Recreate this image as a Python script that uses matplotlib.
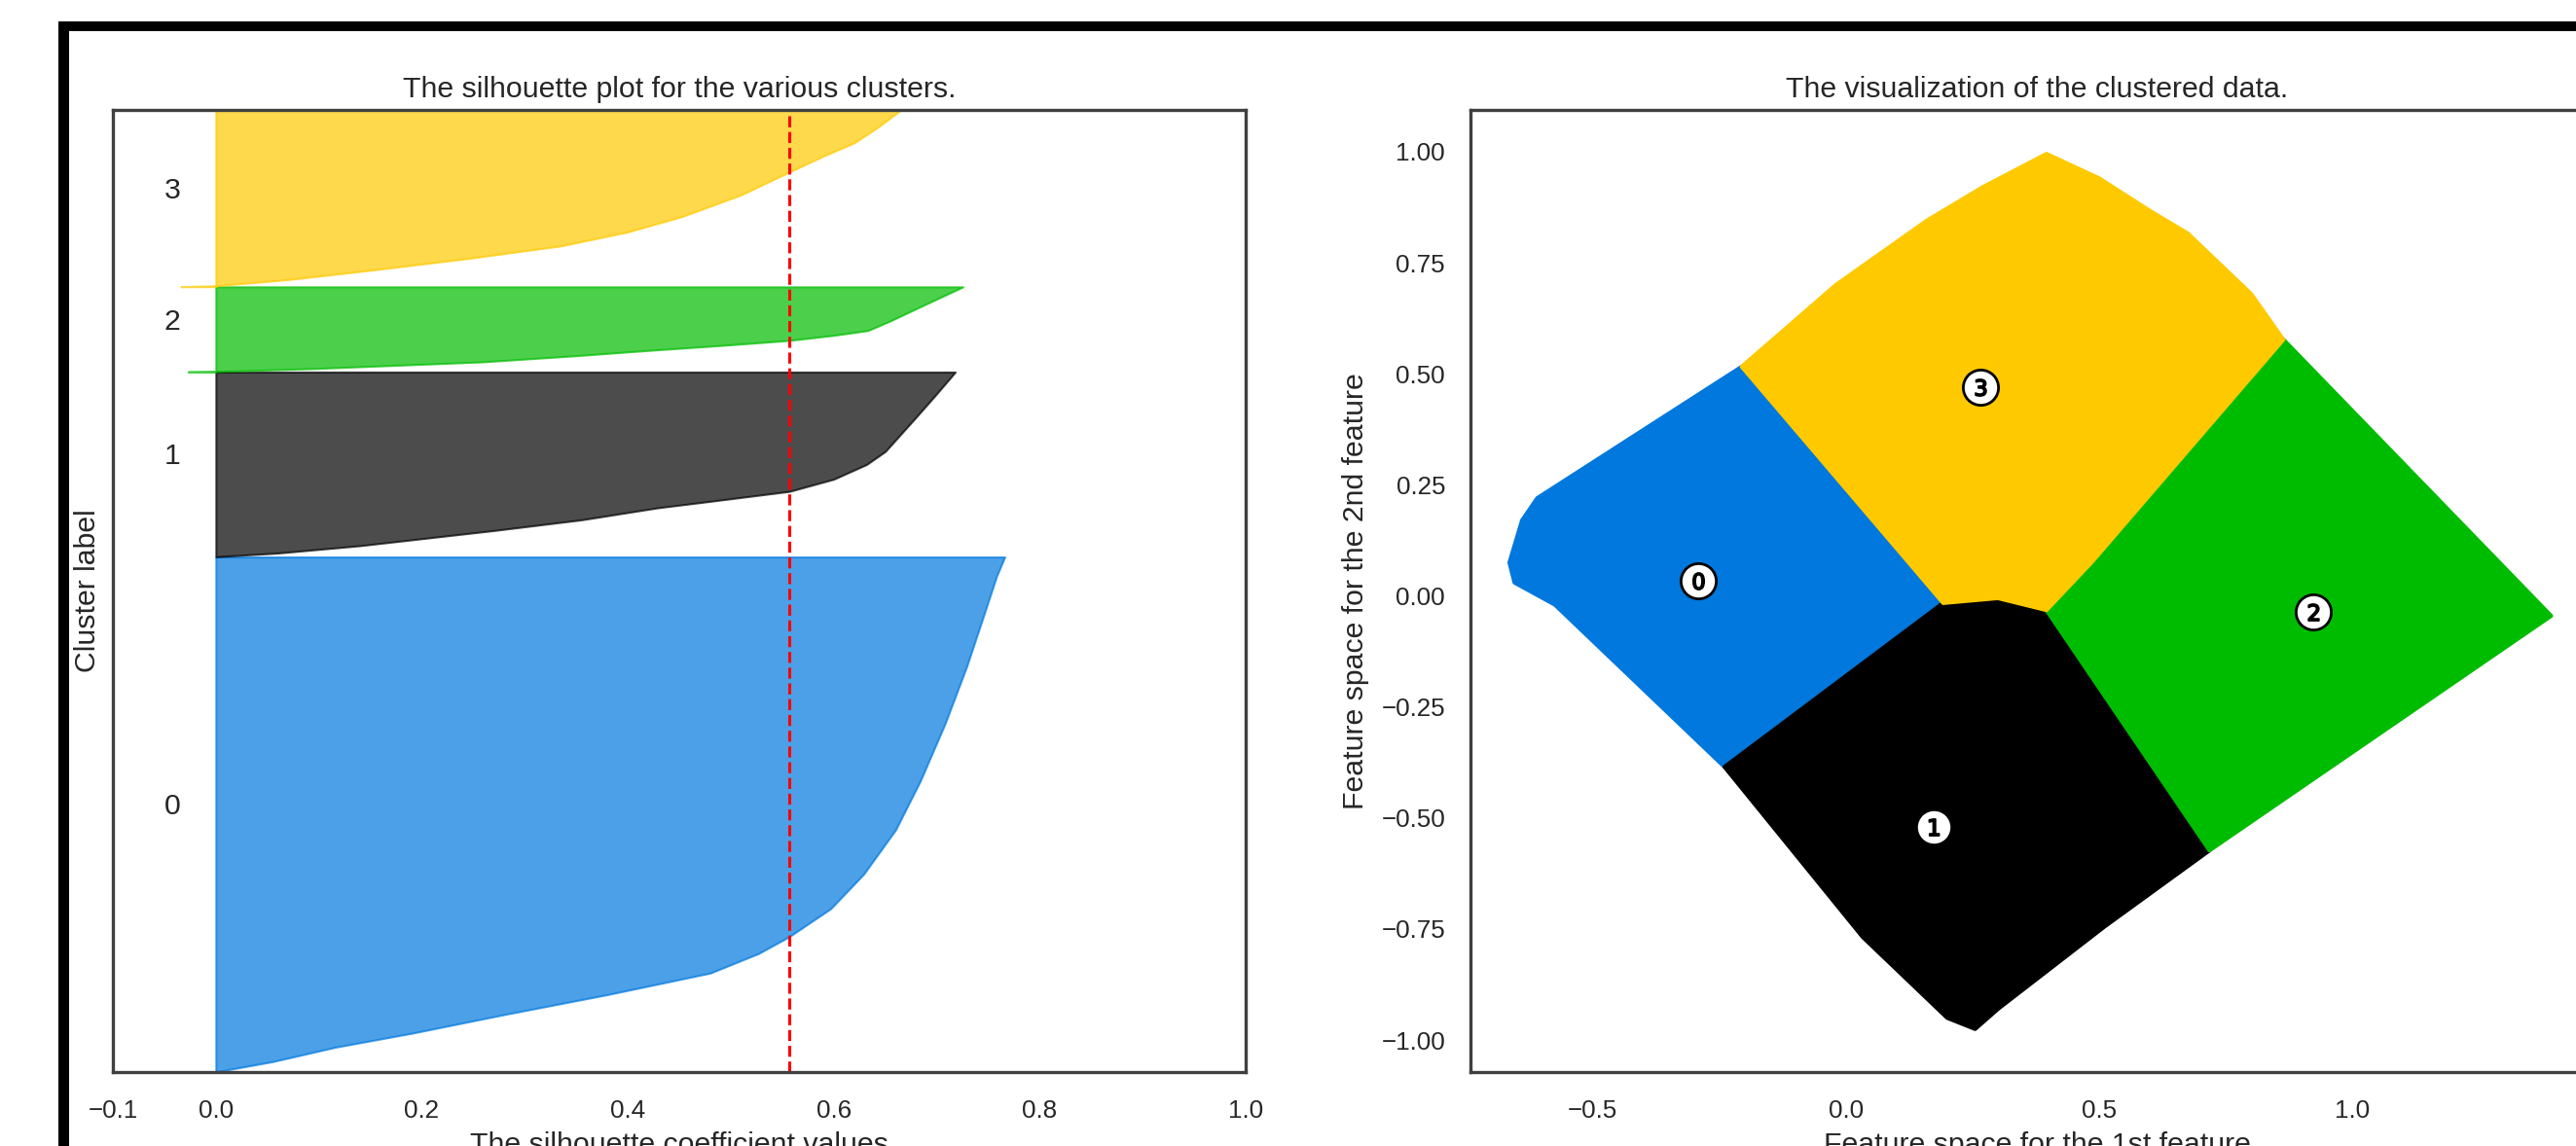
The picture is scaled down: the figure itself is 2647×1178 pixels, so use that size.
import numpy as np
import matplotlib
matplotlib.use("Agg")
import matplotlib.pyplot as plt
from matplotlib.patches import Rectangle

# ------------------------------------------------------------------ data
cluster_ids = [0, 1, 2, 3]
cluster_sizes = [31500, 11300, 5200, 10800]
gap = 10
silhouette_avg = 0.557

# silhouette profiles: fraction of cluster (bottom->top) and coefficient value
sil_frac_0 = [0.0, 0.02, 0.048, 0.075, 0.111, 0.15, 0.192, 0.23, 0.263, 0.317,
              0.384, 0.47, 0.565, 0.676, 0.787, 0.883, 0.962, 1.0]
sil_val_0 = [0.0, 0.055, 0.116, 0.19, 0.279, 0.38, 0.48, 0.527, 0.557, 0.597,
             0.629, 0.660, 0.684, 0.708, 0.729, 0.745, 0.758, 0.766]
sil_frac_1 = [0.0, 0.02, 0.06, 0.142, 0.2, 0.265, 0.3, 0.354, 0.42, 0.5, 0.57,
              0.632, 0.75, 0.87, 1.0]
sil_val_1 = [0.0, 0.06, 0.14, 0.27, 0.355, 0.429, 0.48, 0.557, 0.60, 0.632, 0.650,
             0.660, 0.679, 0.698, 0.718]
sil_frac_2 = [0.0, 0.004, 0.039, 0.117, 0.19, 0.253, 0.31, 0.37, 0.43, 0.486,
              0.6, 0.8, 1.0]
sil_val_2 = [-0.027, 0.0, 0.095, 0.258, 0.35, 0.421, 0.49, 0.557, 0.60, 0.633,
             0.655, 0.690, 0.7255]
sil_frac_3 = [0.0, 0.005, 0.04, 0.093, 0.16, 0.231, 0.31, 0.398, 0.52, 0.65,
              0.74, 0.815, 0.9, 1.0]
sil_val_3 = [-0.034, 0.0, 0.07, 0.150, 0.245, 0.335, 0.40, 0.453, 0.51, 0.557,
             0.59, 0.62, 0.642, 0.665]

sil_fracs = [sil_frac_0, sil_frac_1, sil_frac_2, sil_frac_3]
sil_vals = [sil_val_0, sil_val_1, sil_val_2, sil_val_3]

# colour-map positions used for each cluster (nipy_spectral)
cmap_pos = [0.25, 0.0, 0.5, 0.75]

# cluster regions in the feature space (outline of each point cloud)
region_x_0 = [-0.665, -0.64, -0.61, -0.206, 0.192, -0.24, -0.575, -0.655]
region_y_0 = [0.075, 0.17, 0.220, 0.516, -0.016, -0.385, -0.020, 0.03]
region_x_1 = [0.192, 0.30, 0.396, 0.718, 0.51, 0.30, 0.255, 0.20, 0.033, -0.24]
region_y_1 = [-0.016, -0.005, -0.032, -0.573, -0.745, -0.93, -0.975, -0.95, -0.768, -0.385]
region_x_2 = [0.396, 0.487, 0.864, 1.393, 0.718]
region_y_2 = [-0.032, 0.078, 0.577, -0.045, -0.573]
region_x_3 = [-0.206, -0.02, 0.16, 0.27, 0.396, 0.50, 0.60, 0.675, 0.80, 0.864, 0.487, 0.396, 0.30, 0.192]
region_y_3 = [0.516, 0.700, 0.845, 0.920, 0.995, 0.940, 0.867, 0.816, 0.680, 0.577, 0.078, -0.032, -0.005, -0.016]
region_xs = [region_x_0, region_x_1, region_x_2, region_x_3]
region_ys = [region_y_0, region_y_1, region_y_2, region_y_3]

centers_x = [-0.292, 0.173, 0.923, 0.265]
centers_y = [0.034, -0.520, -0.037, 0.470]

sil_xticks = [-0.1, 0, 0.2, 0.4, 0.6, 0.8, 1]
feat_xticks = [-0.5, 0.0, 0.5, 1.0]
feat_yticks = [-1.0, -0.75, -0.5, -0.25, 0.0, 0.25, 0.5, 0.75, 1.0]

title_left = "The silhouette plot for the various clusters."
title_right = "The visualization of the clustered data."
xlabel_left = "The silhouette coefficient values"
ylabel_left = "Cluster label"
xlabel_right = "Feature space for the 1st feature"
ylabel_right = "Feature space for the 2nd feature"

# ------------------------------------------------------------------ style
plt.rcParams['font.family'] = ['Liberation Sans', 'DejaVu Sans']
plt.rcParams['axes.unicode_minus'] = True
TXT = '.15'
SPINE = '.25'
TICK_FS = 18.7
LAB_FS = 21.8

W, H = 2647, 1178
fig = plt.figure(figsize=(W / 100, H / 100), dpi=100)
fig.patch.set_facecolor('white')

ax1 = fig.add_axes([116 / W, (H - 1102) / H, 1164 / W, 989 / H])
ax2 = fig.add_axes([1511 / W, (H - 1102) / H, 1164 / W, 989 / H])

cmap = plt.cm.nipy_spectral
colors = [cmap(p) for p in cmap_pos]

# ---------------- left: silhouette plot
y_lower = gap
for i in cluster_ids:
    size = cluster_sizes[i]
    y = y_lower + np.array(sil_fracs[i]) * size
    ax1.fill_betweenx(y, 0, sil_vals[i], facecolor=colors[i],
                      edgecolor=colors[i], alpha=0.7, linewidth=1.5)
    ax1.text(-0.05, y_lower + 0.5 * size, str(i), fontsize=LAB_FS, color=TXT)
    y_lower = y_lower + size + gap

ax1.axvline(x=silhouette_avg, color='red', linestyle='--', linewidth=2.2)
ax1.set_xlim(-0.1, 1.0)
ax1.set_ylim(0, sum(cluster_sizes) + (len(cluster_ids) + 1) * gap)
ax1.set_xticks(sil_xticks)
ax1.set_yticks([])
ax1.set_title(title_left, fontsize=LAB_FS, color=TXT, pad=9.4)
ax1.set_xlabel(xlabel_left, fontsize=LAB_FS, color=TXT, labelpad=6)
ax1.set_ylabel(ylabel_left, fontsize=LAB_FS, color=TXT, labelpad=9)

# ---------------- right: clustered data
for i in cluster_ids:
    ax2.fill(region_xs[i], region_ys[i], facecolor=colors[i], edgecolor=colors[i],
             linewidth=3.0, alpha=1.0, zorder=2, joinstyle='round')
ax2.scatter(centers_x, centers_y, marker='o', c='white', alpha=1, s=680,
            edgecolors='k', linewidths=2.0, zorder=4)
for i in cluster_ids:
    ax2.scatter(centers_x[i], centers_y[i], marker='$%d$' % i, c='k', alpha=1,
                s=150, edgecolors='k', linewidths=1.3, zorder=5)
ax2.set_xlim(-0.742, 1.496)
ax2.set_ylim(-1.072, 1.094)
ax2.set_xticks(feat_xticks)
ax2.set_yticks(feat_yticks)
ax2.set_title(title_right, fontsize=LAB_FS, color=TXT, pad=9.4)
ax2.set_xlabel(xlabel_right, fontsize=LAB_FS, color=TXT, labelpad=6)
ax2.set_ylabel(ylabel_right, fontsize=LAB_FS, color=TXT, labelpad=9)

for ax in (ax1, ax2):
    ax.set_facecolor('white')
    for s in ax.spines.values():
        s.set_color(SPINE)
        s.set_linewidth(2.4)
    ax.tick_params(axis='x', length=0, pad=20.5, labelsize=TICK_FS, labelcolor=TXT)
    ax.tick_params(axis='y', length=0, pad=18.7, labelsize=TICK_FS, labelcolor=TXT)

# black frame of the screenshot
fig.add_artist(Rectangle((60 / W, 0), 11 / W, (H - 22) / H, transform=fig.transFigure,
                         facecolor='black', edgecolor='none', zorder=10))
fig.add_artist(Rectangle((60 / W, (H - 32) / H), (W - 60) / W, 10 / H,
                         transform=fig.transFigure, facecolor='black',
                         edgecolor='none', zorder=10))

fig.savefig('out.png', dpi=100, facecolor='white')
